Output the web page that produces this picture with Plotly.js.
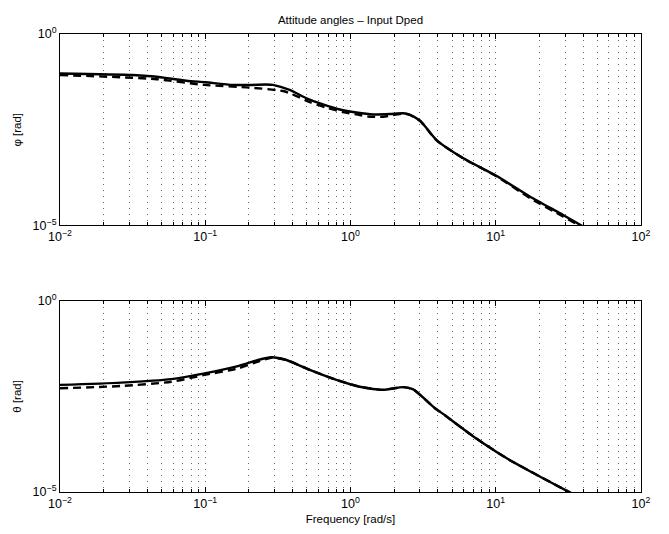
<!DOCTYPE html>
<html>
<head>
<meta charset="utf-8">
<script src="https://cdn.plot.ly/plotly-3.0.1.min.js"></script>
<style>html,body{margin:0;padding:0;background:#fff;}#chart{width:669px;height:534px;}</style>
</head>
<body>
<div id="chart"></div>
<script>
// Frequencies in rad/s, magnitudes in rad
const phiFreqSolid = [0.01, 0.0316, 0.0447, 0.0741, 0.1, 0.155, 0.209, 0.263, 0.292, 0.381, 0.498, 0.647, 0.843, 1.099, 1.432, 1.866, 2.307, 2.564, 3.006, 3.342, 3.917, 5.984, 10.16, 17.26, 29.24, 39.17, 50.1];
const phiSolid     = [0.0933, 0.0851, 0.0776, 0.0603, 0.0550, 0.0468, 0.0468, 0.0479, 0.0468, 0.0347, 0.0209, 0.0145, 0.0107, 0.00891, 0.00794, 0.00813, 0.00851, 0.00776, 0.00550, 0.00347, 0.00170, 0.000569, 0.000195, 5.62e-5, 1.86e-5, 9.77e-6, 5.62e-6];

const phiFreqDash = [0.01, 0.0447, 0.0989, 0.202, 0.343, 0.425, 0.525, 0.682, 0.889, 1.099, 1.358, 1.679, 2.307, 2.564, 3.006, 3.342, 3.917, 5.984, 10.16, 17.26, 29.24, 39.17, 50.1];
const phiDash     = [0.0851, 0.0668, 0.0468, 0.0398, 0.0324, 0.0240, 0.0166, 0.0120, 0.00912, 0.00794, 0.00692, 0.00692, 0.00832, 0.00776, 0.00537, 0.00339, 0.00166, 0.000562, 0.000191, 5.13e-5, 1.70e-5, 9.12e-6, 5.25e-6];

const thetaFreqSolid = [0.01, 0.0263, 0.0583, 0.0989, 0.168, 0.231, 0.285, 0.362, 0.525, 0.800, 1.159, 1.679, 2.307, 2.704, 3.811, 4.130, 7.015, 11.91, 20.23, 31.62, 39.81];
const thetaSolid     = [0.00631, 0.00724, 0.00891, 0.0126, 0.0195, 0.0282, 0.0331, 0.0282, 0.0155, 0.00851, 0.00562, 0.00468, 0.00550, 0.00479, 0.00155, 0.00126, 0.000282, 7.59e-5, 2.51e-5, 1.02e-5, 6.31e-6];

const thetaFreqDash = [0.01, 0.0263, 0.0583, 0.0989, 0.168, 0.231, 0.285, 0.362, 0.525, 0.800, 1.159, 1.679, 2.307, 2.704, 3.811, 4.130, 7.015, 11.91, 20.23, 31.62, 39.81];
const thetaDash     = [0.00513, 0.00589, 0.00759, 0.0115, 0.0170, 0.0257, 0.0324, 0.0282, 0.0155, 0.00851, 0.00562, 0.00468, 0.00550, 0.00479, 0.00155, 0.00126, 0.000282, 7.59e-5, 2.51e-5, 1.02e-5, 6.31e-6];

const xMajorVals = [0.01, 0.1, 1, 10, 100];
const xMajorText = ['10<sup>−2</sup>', '10<sup>−1</sup>', '10<sup>0</sup>', '10<sup>1</sup>', '10<sup>2</sup>'];
const xMinorVals = [0.02,0.03,0.04,0.05,0.06,0.07,0.08,0.09, 0.2,0.3,0.4,0.5,0.6,0.7,0.8,0.9, 2,3,4,5,6,7,8,9, 20,30,40,50,60,70,80,90];
const yTickVals = [1e-5, 1];
const yTickText = ['10<sup>−5</sup>', '10<sup>0</sup>'];

const titleText = 'Attitude angles – Input Dped';
const yTitleTop = 'φ [rad]';
const yTitleBottom = 'θ [rad]';
const xTitle = 'Frequency [rad/s]';

const FONT = 'Liberation Sans, Arial, sans-serif';
const solidLine = {color: '#000', width: 2.4};
const dashLine = {color: '#000', width: 2.4, dash: '8px,5px'};

const traces = [
  {x: phiFreqDash, y: phiDash, xaxis: 'x', yaxis: 'y', mode: 'lines', line: dashLine},
  {x: phiFreqSolid, y: phiSolid, xaxis: 'x', yaxis: 'y', mode: 'lines', line: solidLine},
  {x: thetaFreqDash, y: thetaDash, xaxis: 'x2', yaxis: 'y2', mode: 'lines', line: dashLine},
  {x: thetaFreqSolid, y: thetaSolid, xaxis: 'x2', yaxis: 'y2', mode: 'lines', line: solidLine}
];
traces.forEach(t => { t.line = Object.assign({shape: 'spline', smoothing: 0.6}, t.line); t.showlegend = false; t.hoverinfo = 'skip'; });

function xAxis(anchor, withTitle) {
  const ax = {
    type: 'log', range: [-2, 2], anchor: anchor,
    tickmode: 'array', tickvals: xMajorVals, ticktext: xMajorText,
    ticks: 'inside', ticklen: 5, tickcolor: '#000', tickwidth: 1,
    showline: true, linecolor: '#000', linewidth: 1, mirror: 'allticks',
    showgrid: true, gridcolor: '#666', gridwidth: 1, griddash: '1px,5px',
    zeroline: false,
    tickfont: {family: FONT, size: 12.5, color: '#000'},
    minor: {tickmode: 'array', tickvals: xMinorVals, ticks: 'inside', ticklen: 3, tickcolor: '#000',
            showgrid: true, gridcolor: '#666', gridwidth: 1, griddash: '1px,5px'}
  };
  if (withTitle) ax.title = {text: xTitle, font: {family: FONT, size: 11.5, color: '#000'}, standoff: 4};
  return ax;
}
function yAxis(anchor, domain, title) {
  return {
    type: 'log', range: [-5, 0], anchor: anchor, domain: domain,
    tickmode: 'array', tickvals: yTickVals, ticktext: yTickText,
    ticks: 'inside', ticklen: 5, tickcolor: '#000',
    showline: true, linecolor: '#000', linewidth: 1, mirror: 'allticks',
    showgrid: false, zeroline: false,
    tickfont: {family: FONT, size: 12.5, color: '#000'},
    title: {text: title, font: {family: FONT, size: 11.5, color: '#000'}, standoff: 8}
  };
}

const layout = {
  width: 669, height: 534,
  margin: {l: 60, r: 28, t: 34, b: 42, pad: 0},
  paper_bgcolor: '#fff', plot_bgcolor: '#fff',
  font: {family: FONT, size: 11, color: '#000'},
  title: {text: titleText, font: {family: FONT, size: 11.5, color: '#000'}, x: 0.5, xref: 'paper', y: 1 - 20/534, yref: 'container', yanchor: 'middle'},
  xaxis: xAxis('y', false),
  yaxis: yAxis('x', [0.5819, 1], yTitleTop),
  xaxis2: xAxis('y2', true),
  yaxis2: yAxis('x2', [0, 0.4177], yTitleBottom),
  showlegend: false
};

Plotly.newPlot('chart', traces, layout, {staticPlot: true, displayModeBar: false});
</script>
</body>
</html>
